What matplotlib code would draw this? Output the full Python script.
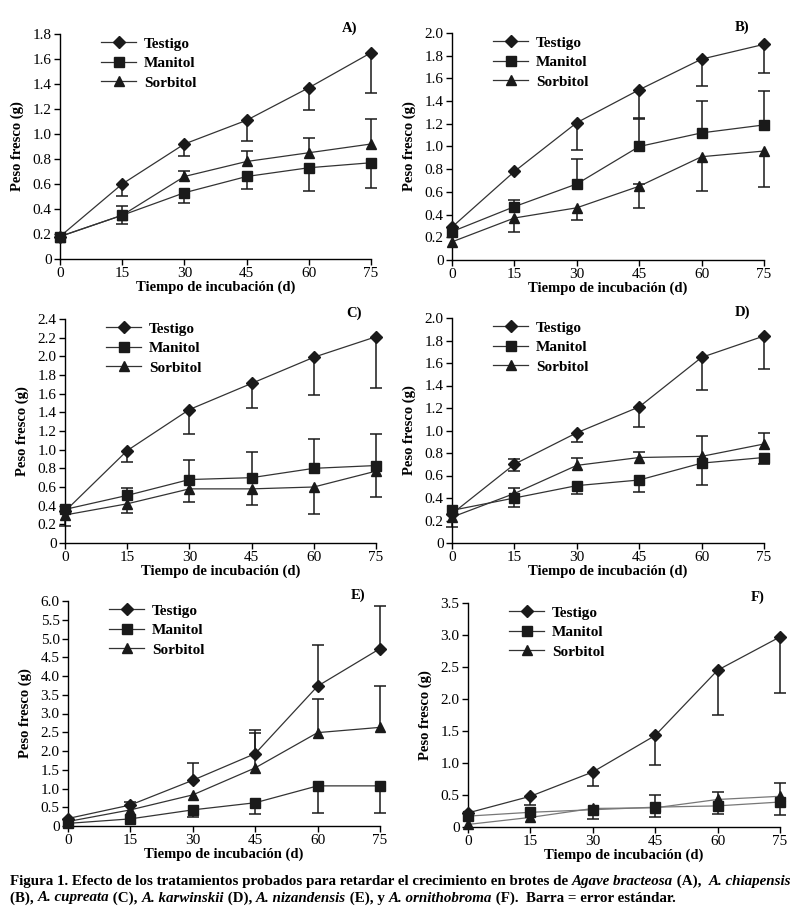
import numpy as np
import matplotlib
matplotlib.use("Agg")
import matplotlib.pyplot as plt
from matplotlib.lines import Line2D

plt.rcParams['font.family'] = ['Liberation Serif', 'DejaVu Serif']
plt.rcParams['font.size'] = 10

dias = [0, 15, 30, 45, 60, 75]
nombres = ["Testigo", "Manitol", "Sorbitol"]
marcas = ["D", "s", "^"]

# A) Agave bracteosa
A_test = [0.18, 0.60, 0.92, 1.11, 1.37, 1.65]
A_test_lo = [0, 0.10, 0.10, 0.17, 0.18, 0.32]
A_test_hi = [0, 0, 0, 0, 0, 0]
A_man = [0.18, 0.35, 0.53, 0.66, 0.73, 0.77]
A_man_lo = [0, 0.07, 0.08, 0.10, 0.19, 0.20]
A_man_hi = [0, 0, 0, 0, 0, 0]
A_sor = [0.18, 0.35, 0.66, 0.78, 0.85, 0.92]
A_sor_lo = [0, 0, 0, 0, 0, 0]
A_sor_hi = [0, 0.07, 0.04, 0.08, 0.12, 0.20]

# B) A. chiapensis
B_test = [0.29, 0.78, 1.21, 1.50, 1.77, 1.90]
B_test_lo = [0, 0, 0.24, 0.25, 0.24, 0.25]
B_test_hi = [0, 0, 0, 0, 0, 0]
B_man = [0.25, 0.47, 0.67, 1.00, 1.12, 1.19]
B_man_lo = [0, 0, 0, 0, 0, 0]
B_man_hi = [0, 0.06, 0.22, 0.24, 0.28, 0.30]
B_sor = [0.16, 0.37, 0.46, 0.65, 0.91, 0.96]
B_sor_lo = [0, 0.12, 0.11, 0.19, 0.30, 0.32]
B_sor_hi = [0, 0, 0, 0.02, 0, 0]

# C) A. cupreata
C_test = [0.34, 0.99, 1.43, 1.71, 1.99, 2.21]
C_test_lo = [0, 0.12, 0.26, 0.26, 0.40, 0.55]
C_test_hi = [0, 0, 0, 0, 0, 0]
C_man = [0.36, 0.51, 0.68, 0.70, 0.80, 0.83]
C_man_lo = [0, 0, 0, 0, 0, 0]
C_man_hi = [0, 0.08, 0.21, 0.28, 0.31, 0.34]
C_sor = [0.30, 0.42, 0.58, 0.58, 0.60, 0.77]
C_sor_lo = [0.12, 0.10, 0.14, 0.17, 0.29, 0.28]
C_sor_hi = [0, 0, 0, 0, 0, 0]

# D) A. karwinskii
D_test = [0.26, 0.70, 0.98, 1.21, 1.65, 1.84]
D_test_lo = [0, 0.06, 0.08, 0.18, 0.29, 0.29]
D_test_hi = [0, 0.05, 0, 0, 0, 0]
D_man = [0.29, 0.40, 0.51, 0.56, 0.71, 0.76]
D_man_lo = [0, 0.08, 0.07, 0.11, 0.19, 0.06]
D_man_hi = [0, 0, 0, 0, 0, 0]
D_sor = [0.23, 0.44, 0.69, 0.76, 0.77, 0.88]
D_sor_lo = [0.09, 0, 0, 0, 0, 0]
D_sor_hi = [0, 0.05, 0.07, 0.05, 0.18, 0.10]

# E) A. nizandensis
E_test = [0.20, 0.56, 1.22, 1.93, 3.73, 4.73]
E_test_lo = [0, 0, 0, 0, 0, 0]
E_test_hi = [0, 0.09, 0.47, 0.64, 1.10, 1.15]
E_man = [0.07, 0.19, 0.43, 0.62, 1.07, 1.07]
E_man_lo = [0, 0, 0.20, 0.30, 0.71, 0.73]
E_man_hi = [0, 0, 0, 0, 0, 0]
E_sor = [0.12, 0.43, 0.83, 1.55, 2.49, 2.63]
E_sor_lo = [0, 0, 0, 0, 0, 0]
E_sor_hi = [0, 0, 0, 0.92, 0.91, 1.11]

# F) A. ornithobroma
F_test = [0.22, 0.48, 0.86, 1.43, 2.45, 2.97]
F_test_lo = [0, 0.13, 0.22, 0.46, 0.70, 0.87]
F_test_hi = [0, 0, 0, 0, 0, 0]
F_man = [0.17, 0.23, 0.27, 0.31, 0.33, 0.39]
F_man_lo = [0, 0, 0.15, 0.15, 0.12, 0.20]
F_man_hi = [0, 0, 0, 0, 0, 0]
F_sor = [0.04, 0.15, 0.29, 0.30, 0.43, 0.48]
F_sor_lo = [0, 0, 0, 0, 0, 0]
F_sor_hi = [0, 0, 0, 0.20, 0.12, 0.20]

paneles = [
    ("A)", [(A_test, A_test_lo, A_test_hi), (A_man, A_man_lo, A_man_hi), (A_sor, A_sor_lo, A_sor_hi)],
     np.arange(0, 1.81, 0.2)),
    ("B)", [(B_test, B_test_lo, B_test_hi), (B_man, B_man_lo, B_man_hi), (B_sor, B_sor_lo, B_sor_hi)],
     np.arange(0, 2.01, 0.2)),
    ("C)", [(C_test, C_test_lo, C_test_hi), (C_man, C_man_lo, C_man_hi), (C_sor, C_sor_lo, C_sor_hi)],
     np.arange(0, 2.41, 0.2)),
    ("D)", [(D_test, D_test_lo, D_test_hi), (D_man, D_man_lo, D_man_hi), (D_sor, D_sor_lo, D_sor_hi)],
     np.arange(0, 2.01, 0.2)),
    ("E)", [(E_test, E_test_lo, E_test_hi), (E_man, E_man_lo, E_man_hi), (E_sor, E_sor_lo, E_sor_hi)],
     np.arange(0, 6.01, 0.5)),
    ("F)", [(F_test, F_test_lo, F_test_hi), (F_man, F_man_lo, F_man_hi), (F_sor, F_sor_lo, F_sor_hi)],
     np.arange(0, 3.51, 0.5)),
]

# axes boxes in pixels: left, right, bottom, top
cajas = [(60, 371, 259, 34), (452, 764, 260, 33),
         (65, 376, 543, 319), (452, 764, 543, 318),
         (68, 380, 826, 601), (468, 780, 827, 603)]

W, H = 806, 914
fig = plt.figure(figsize=(W / 100, H / 100), dpi=100)

for (etiqueta, series, yt), (l, r, b, t) in zip(paneles, cajas):
    ax = fig.add_axes([l / W, 1 - b / H, (r - l) / W, (b - t) / H])
    gris = etiqueta == "F)"
    for i, (vals, lo, hi) in enumerate(series):
        vals = np.array(vals)
        lo = np.array(lo)
        hi = np.array(hi)
        x = np.array(dias)
        for err, signo in ((lo, -1), (hi, 1)):
            m = err > 0
            fin = vals[m] + signo * err[m]
            ax.vlines(x[m], vals[m], fin, color='#1a1a1a', lw=1.1, zorder=2, clip_on=False)
            ax.plot(x[m], fin, ls='none', marker='_', ms=9, mew=1.1, color='#1a1a1a', zorder=2, clip_on=False)
        col_linea = '#777777' if (gris and i > 0) else '#333333'
        ax.plot(dias, vals, color=col_linea, lw=0.9, zorder=3, clip_on=False)
        ax.plot(dias, vals, ls='none', marker=marcas[i], ms=6.5 if i == 0 else 7,
                color='#1a1a1a', zorder=4, clip_on=False)

    ax.set_xlim(0, 75)
    ax.set_ylim(0, yt[-1])
    ax.set_xticks(dias)
    ax.set_yticks(yt)
    ax.set_yticklabels(['0' if abs(v) < 1e-9 else f'{v:.1f}' for v in yt])
    for s in ['top', 'right']:
        ax.spines[s].set_visible(False)
    for s in ['left', 'bottom']:
        ax.spines[s].set_linewidth(1.0)
    ax.tick_params(direction='out', length=4, width=1.0, labelsize=11, pad=2)
    ax.set_xlabel("Tiempo de incubación (d)", fontweight='bold', fontsize=10.5, labelpad=0)
    ax.set_ylabel("Peso fresco (g)", fontweight='bold', fontsize=10.5, labelpad=6)
    ax.text(0.93, 1.025, etiqueta, transform=ax.transAxes, ha='center', va='center',
            fontweight='bold', fontsize=10.5)

    manejadores = [Line2D([0], [0], color='#333333', lw=0.9, marker=marcas[i],
                          ms=6.5 if i == 0 else 7, markerfacecolor='#1a1a1a',
                          markeredgecolor='#1a1a1a')
                   for i in range(3)]
    ax.legend(manejadores, nombres, loc='upper left',
              bbox_to_anchor=(41 / (r - l), 1.0 - 3 / (b - t)),
              frameon=False, borderpad=0, borderaxespad=0, handlelength=2.3,
              handletextpad=0.5, labelspacing=0.38,
              prop={'weight': 'bold', 'size': 11})

# caption with mixed bold / bold italic
fig.canvas.draw()
rend = fig.canvas.get_renderer()
lineas = [
    [("Figura 1. Efecto de los tratamientos probados para retardar el crecimiento en brotes de ", 'normal'),
     ("Agave bracteosa", 'italic'), (" (A),  ", 'normal'), ("A. chiapensis", 'italic')],
    [("(B), ", 'normal'), ("A. cupreata", 'italic'), (" (C), ", 'normal'),
     ("A. karwinskii", 'italic'), (" (D), ", 'normal'), ("A. nizandensis", 'italic'),
     (" (E), y ", 'normal'), ("A. ornithobroma", 'italic'),
     (" (F).  Barra = error estándar.", 'normal')],
]
for y_px, partes in zip([881, 898], lineas):
    x_px = 10
    for txt, estilo in partes:
        tt = fig.text(x_px / W, 1 - y_px / H, txt, ha='left', va='center',
                      fontsize=10.8, fontweight='bold', style=estilo)
        bb = tt.get_window_extent(renderer=rend)
        x_px += bb.width

fig.savefig("out.png", dpi=100)
